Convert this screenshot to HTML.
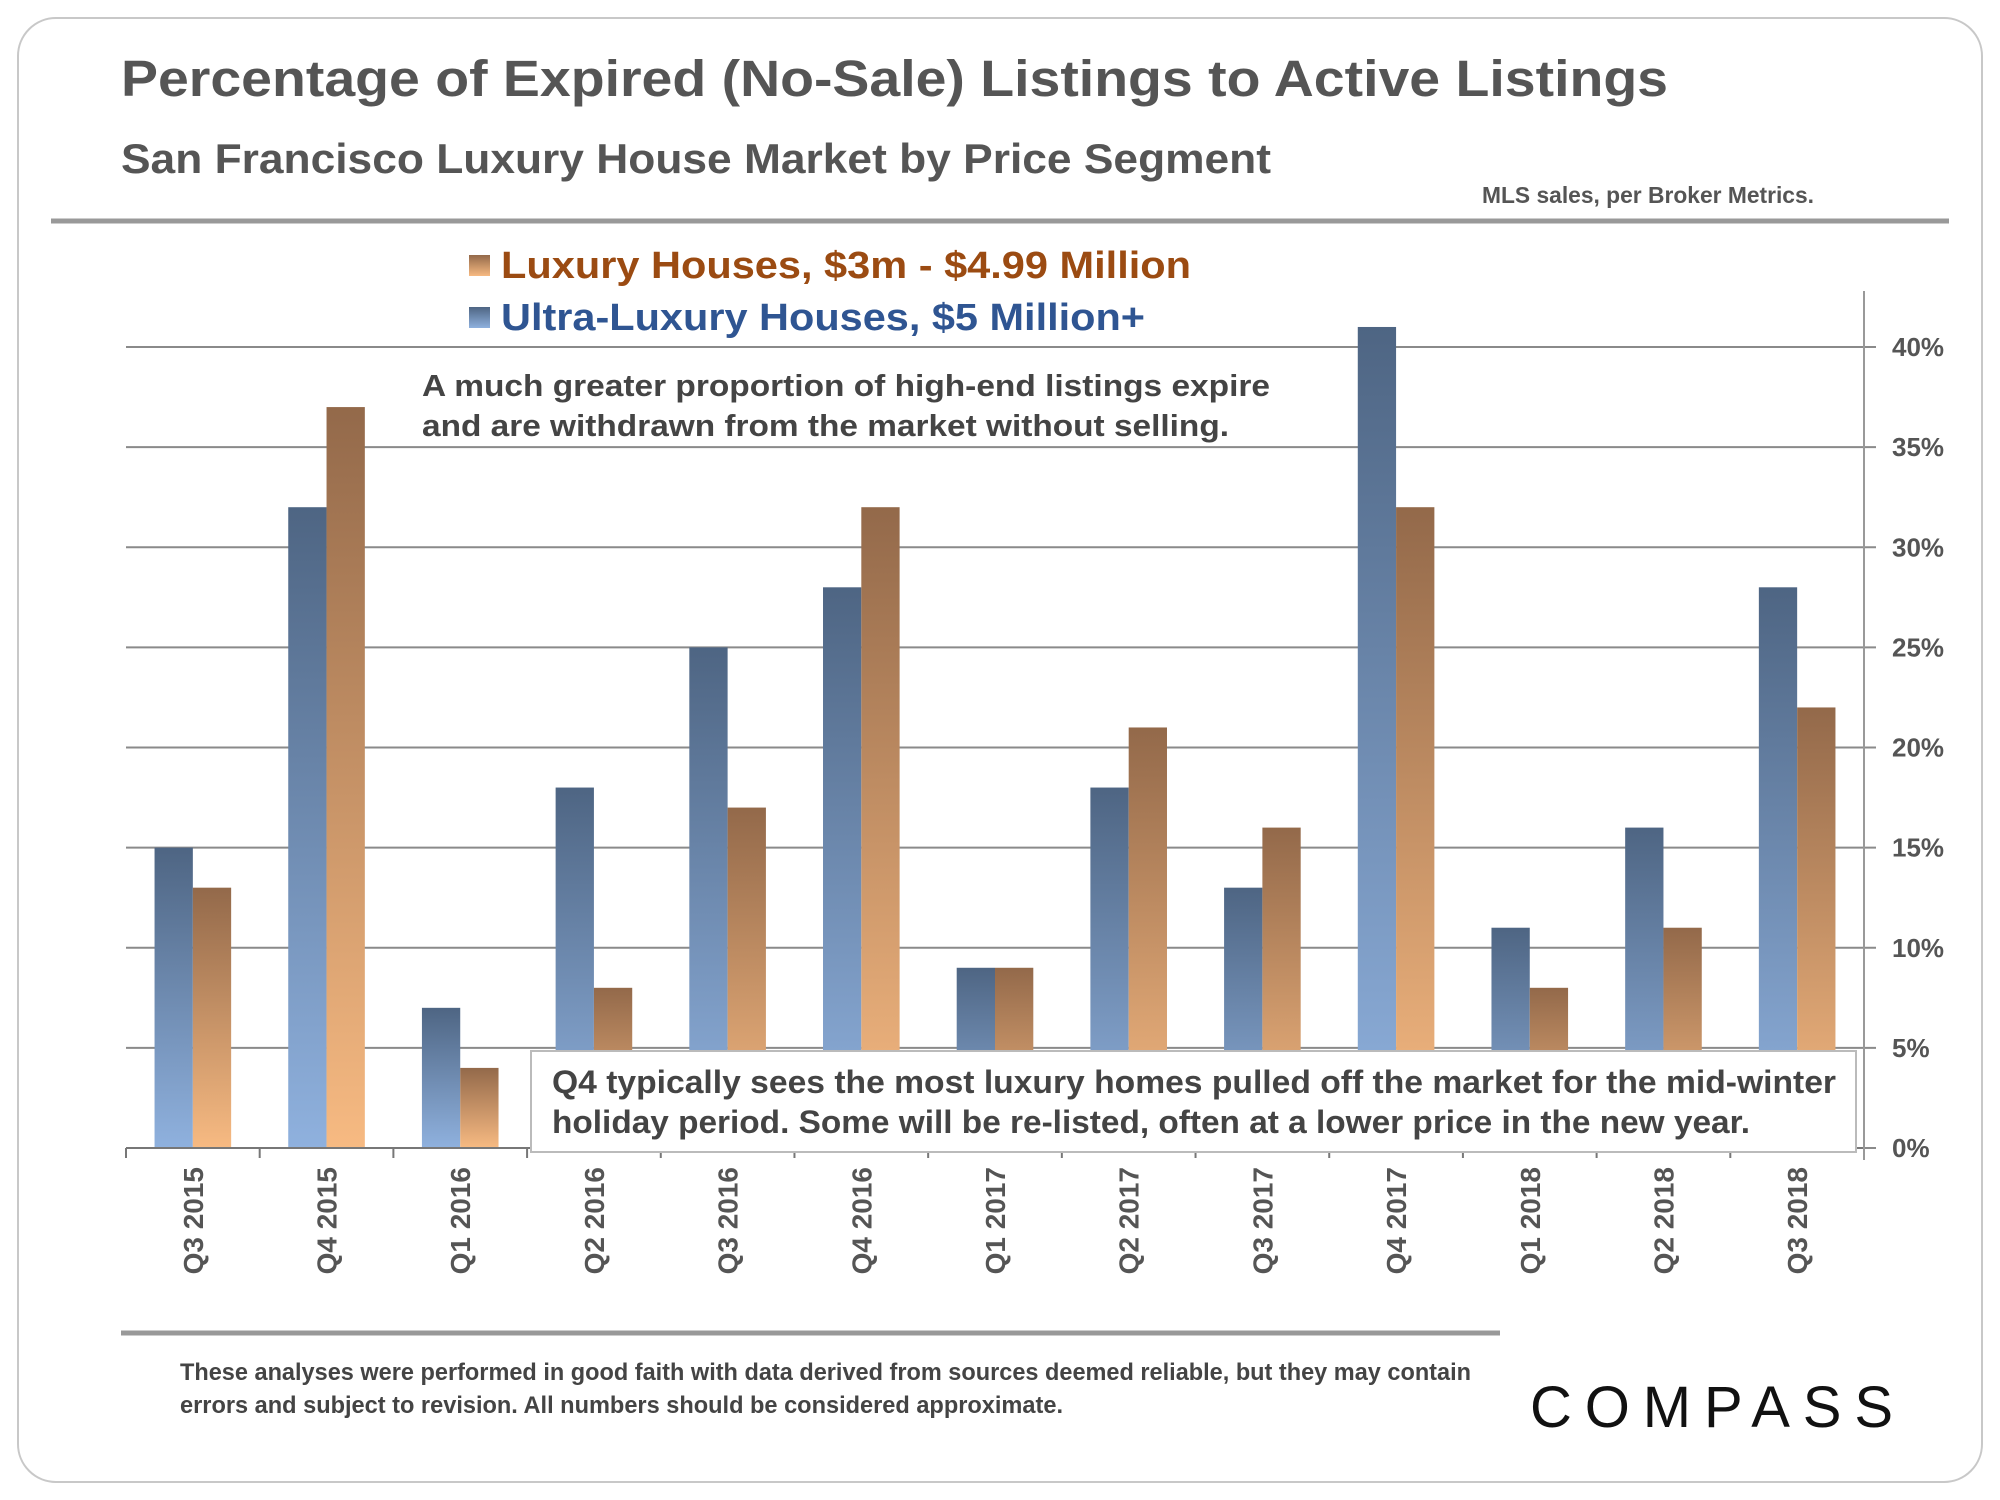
<!DOCTYPE html>
<html><head><meta charset="utf-8"><style>
html,body{margin:0;padding:0;background:#fff;}
svg{display:block;font-family:"Liberation Sans",Arial,sans-serif;}
.nar{font-family:"Liberation Sans Narrow","Liberation Sans",sans-serif;}
</style></head><body>
<svg id="chart" width="2000" height="1500" viewBox="0 0 2000 1500">
<defs>
<linearGradient id="gb" x1="0" y1="0" x2="0" y2="1"><stop offset="0" stop-color="#4e6583"/><stop offset="1" stop-color="#8fb1de"/></linearGradient>
<linearGradient id="go" x1="0" y1="0" x2="0" y2="1"><stop offset="0" stop-color="#93694a"/><stop offset="1" stop-color="#f7ba82"/></linearGradient>
</defs>
<rect x="18" y="18" width="1964" height="1464" rx="38" fill="#fff" stroke="#c8c8c8" stroke-width="2"/>
<text x="121" y="96" font-size="51" font-weight="bold" fill="#555" textLength="1547" lengthAdjust="spacingAndGlyphs">Percentage of Expired (No-Sale) Listings to Active Listings</text>
<text x="121" y="173" font-size="42" font-weight="bold" fill="#555" textLength="1150" lengthAdjust="spacingAndGlyphs">San Francisco Luxury House Market by Price Segment</text>
<text x="1482" y="203" font-size="23" font-weight="bold" fill="#555" class="nar" textLength="332" lengthAdjust="spacingAndGlyphs">MLS sales, per Broker Metrics.</text>
<line x1="51" y1="221" x2="1949" y2="221" stroke="#999" stroke-width="5"/>
<g id="grid"></g>
<g id="bars"></g>
<g id="axes"></g>
<g>
<rect x="469" y="255" width="21" height="21" fill="url(#go)"/>
<text x="501" y="278" font-size="38" font-weight="bold" fill="#9b4b12" textLength="690" lengthAdjust="spacingAndGlyphs">Luxury Houses, $3m - $4.99 Million</text>
<rect x="469" y="307" width="21" height="21" fill="url(#gb)"/>
<text x="501" y="330" font-size="38" font-weight="bold" fill="#2f5592" textLength="644" lengthAdjust="spacingAndGlyphs">Ultra-Luxury Houses, $5 Million+</text>
</g>
<g>
<text x="422" y="396" font-size="31" font-weight="bold" fill="#444" textLength="848" lengthAdjust="spacingAndGlyphs">A much greater proportion of high-end listings expire</text>
<text x="422" y="436" font-size="31" font-weight="bold" fill="#444" textLength="807" lengthAdjust="spacingAndGlyphs">and are withdrawn from the market without selling.</text>
</g>
<g>
<rect x="531" y="1051" width="1325" height="101" fill="#fff" stroke="#bbb" stroke-width="2"/>
<text x="552" y="1093" font-size="32" font-weight="bold" fill="#444" textLength="1284" lengthAdjust="spacingAndGlyphs">Q4 typically sees the most luxury homes pulled off the market for the mid-winter</text>
<text x="552" y="1133" font-size="32" font-weight="bold" fill="#444" textLength="1198" lengthAdjust="spacingAndGlyphs">holiday period. Some will be re-listed, often at a lower price in the new year.</text>
</g>
<line x1="121" y1="1333" x2="1500" y2="1333" stroke="#999" stroke-width="5"/>
<g class="nar">
<text x="180" y="1380" font-size="24" font-weight="bold" fill="#444" textLength="1291" lengthAdjust="spacingAndGlyphs">These analyses were performed in good faith with data derived from sources deemed reliable, but they may contain</text>
<text x="180" y="1413" font-size="24" font-weight="bold" fill="#444" textLength="883" lengthAdjust="spacingAndGlyphs">errors and subject to revision. All numbers should be considered  approximate.</text>
</g>
<text x="1530" y="1427" font-size="58" fill="#111" textLength="363" lengthAdjust="spacing">COMPASS</text>
</svg>
<script>
const categories = ["Q3 2015","Q4 2015","Q1 2016","Q2 2016","Q3 2016","Q4 2016","Q1 2017","Q2 2017","Q3 2017","Q4 2017","Q1 2018","Q2 2018","Q3 2018"];
const ultraValues = [15,32,7,18,25,28,9,18,13,41,11,16,28];
const luxuryValues = [13,37,4,8,17,32,9,21,16,32,8,11,22];
const yTicks = [0,5,10,15,20,25,30,35,40];
const yTickLabels = ["0%","5%","10%","15%","20%","25%","30%","35%","40%"];

const NS = "http://www.w3.org/2000/svg";
const X0 = 126, X1 = 1864, Y0 = 1148, Y40 = 347;
const bw = 38.3;
const cw = (X1 - X0) / categories.length;
function y(v){ return Y0 - (v / 40) * (Y0 - Y40); }
function xc(i){ return X0 + cw * (i + 0.5); }
function mk(tag, attrs, parent){ const e = document.createElementNS(NS, tag); for (const k in attrs) e.setAttribute(k, attrs[k]); parent.appendChild(e); return e; }

const grid = document.getElementById('grid');
const bars = document.getElementById('bars');
const axes = document.getElementById('axes');

yTicks.forEach((t, i) => {
  const gl = mk('line', {x1: X0, x2: 1876, y1: y(t), y2: y(t), stroke: '#8a8a8a', 'stroke-width': 2}, grid);
  
  
  const lb = mk('text', {x: 1892, y: y(t) + 9, 'font-size': 26, 'font-weight': 'bold', fill: '#555'}, axes);
  lb.textContent = yTickLabels[i];
  
  
});

categories.forEach((c, i) => {
  const cx = xc(i);
  const b1 = mk('rect', {x: cx - bw, y: y(ultraValues[i]), width: bw, height: Y0 - y(ultraValues[i]), fill: 'url(#gb)'}, bars);
  
  
  const b2 = mk('rect', {x: cx, y: y(luxuryValues[i]), width: bw, height: Y0 - y(luxuryValues[i]), fill: 'url(#go)'}, bars);
  
  
  const lb = mk('text', {x: 0, y: 0, 'font-size': 28, 'font-weight': 'bold', fill: '#555', 'text-anchor': 'end', transform: 'translate(' + (cx + 10) + ',1167) rotate(-90)'}, axes);
  lb.textContent = c;
  
  
});
for (let i = 0; i <= categories.length; i++) {
  const tk = mk('line', {x1: X0 + cw * i, x2: X0 + cw * i, y1: Y0, y2: Y0 + 10, stroke: '#777', 'stroke-width': 2}, axes);
  
  
}
const xa = mk('line', {x1: X0, x2: X1, y1: Y0, y2: Y0, stroke: '#777', 'stroke-width': 2}, axes);


const ya = mk('line', {x1: X1, x2: X1, y1: 291, y2: 1160, stroke: '#999', 'stroke-width': 2}, axes);


</script>
</body></html>
